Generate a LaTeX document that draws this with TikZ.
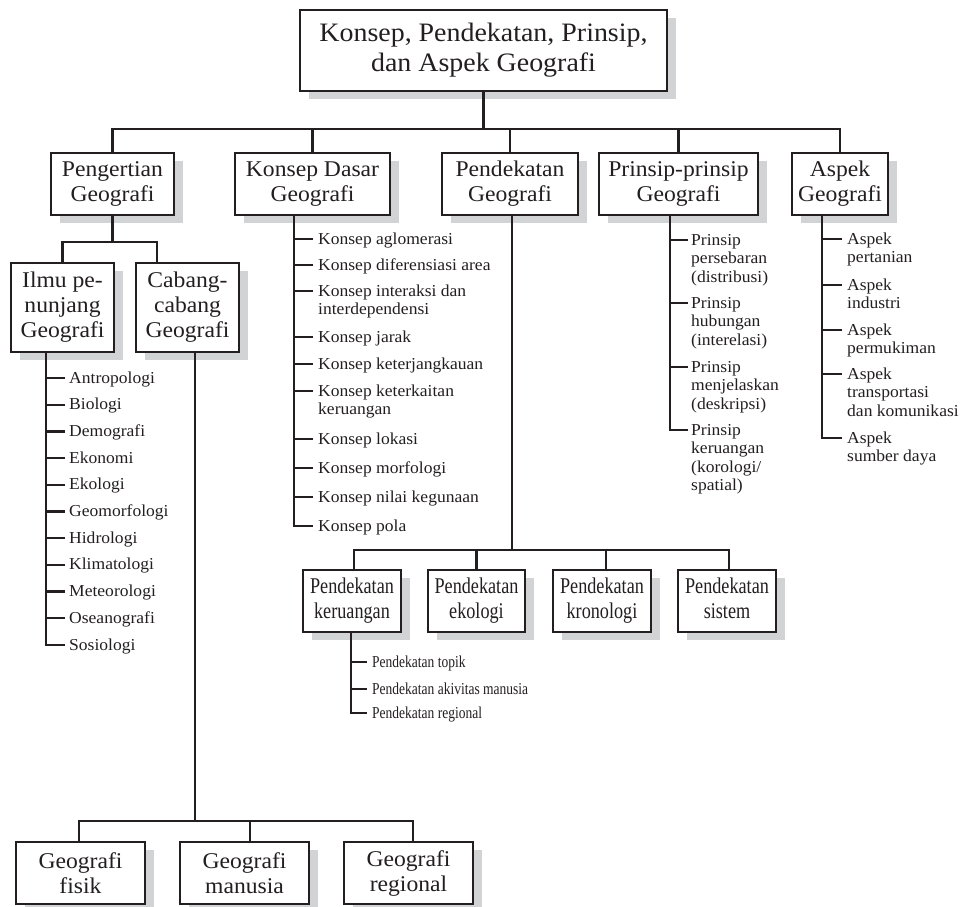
\documentclass[tikz,border=0pt]{standalone}
\usepackage{fontspec}
\setmainfont{Liberation Serif}[FakeStretch=1.05]
\usepackage{graphicx}
\usetikzlibrary{shadows}
\definecolor{ink}{HTML}{231F20}
\definecolor{shade}{HTML}{D1D3D4}
\newcommand{\lst}[1]{\begin{tabular}[t]{@{}l@{}}#1\end{tabular}}
\newcommand{\sqz}[1]{\scalebox{0.77}[1]{#1}}
\newcommand{\cbox}[1]{\begin{tabular}{@{}c@{}}#1\end{tabular}}
\tikzset{
  box/.style={draw=ink, line width=2.4pt, fill=white, inner sep=0pt, align=center, text=ink,
    font=\fontsize{22.5}{25}\selectfont,
    drop shadow={shadow xshift=9pt, shadow yshift=-8pt, fill=shade, opacity=1}},
  conn/.style={draw=ink, line width=2.3pt},
  item/.style={anchor=base west, inner sep=0pt, text=ink, font=\fontsize{16.7}{18.5}\selectfont},
}
\begin{document}
\begin{tikzpicture}[x=1pt,y=-1pt]
\useasboundingbox[fill=white] (0,0) rectangle (966,907);
% ---------------- boxes
\node[box, font=\fontsize{26.6}{30}\selectfont, minimum width=366.6pt, minimum height=80.6pt] (top) at (483.5,50.5) {Konsep, Pendekatan, Prinsip,\\dan Aspek Geografi};
\node[box, minimum width=122.6pt, minimum height=61.6pt] (peng) at (112.5,184) {Pengertian\\Geografi};
\node[box, minimum width=154.6pt, minimum height=61.6pt] (kd) at (312.5,184) {Konsep Dasar\\Geografi};
\node[box, minimum width=135.6pt, minimum height=61.6pt] (pend) at (510,184) {Pendekatan\\Geografi};
\node[box, minimum width=158.6pt, minimum height=61.6pt] (prin) at (678.5,184) {Prinsip-prinsip\\Geografi};
\node[box, minimum width=95.6pt, minimum height=61.6pt] (asp) at (840,184) {Aspek\\Geografi};
\node[box, minimum width=102.6pt, minimum height=88.6pt] (ilmu) at (62.5,307.5) {Ilmu pe-\\nunjang\\Geografi};
\node[box, minimum width=102.6pt, minimum height=88.6pt] (cab) at (187.5,307.5) {Cabang-\\cabang\\Geografi};
\node[box, minimum width=97.6pt, minimum height=61.6pt] (ker) at (352,601) {\sqz{\cbox{Pendekatan\\keruangan}}};
\node[box, minimum width=96.6pt, minimum height=61.6pt] (eko) at (476.5,601) {\sqz{\cbox{Pendekatan\\ekologi}}};
\node[box, minimum width=97.6pt, minimum height=61.6pt] (kro) at (602,601) {\sqz{\cbox{Pendekatan\\kronologi}}};
\node[box, minimum width=97.6pt, minimum height=61.6pt] (sis) at (727,601) {\sqz{\cbox{Pendekatan\\sistem}}};
\node[box, minimum width=128.6pt, minimum height=61.6pt] (fis) at (80.5,873) {Geografi\\fisik};
\node[box, minimum width=128.6pt, minimum height=61.6pt] (man) at (244.5,873) {Geografi\\manusia};
\node[box, minimum width=128.6pt, minimum height=61.6pt] (reg) at (408.5,873) {Geografi\\regional};
% ---------------- main buses
\coordinate (busA) at (0,129);
\draw[conn] (top.south) -- (top.south |- busA);
\draw[conn] (peng.north) |- (asp.north |- busA) -- (asp.north);
\foreach \n in {kd,pend,prin} \draw[conn] (\n.north) -- (\n.north |- busA);
\coordinate (busB) at (0,242);
\draw[conn] (peng.south) -- (peng.south |- busB);
\draw[conn] (ilmu.north) |- ([xshift=-30.5pt]cab.north |- busB) -- ([xshift=-30.5pt]cab.north);
\coordinate (busC) at (0,821);
\draw[conn] ([xshift=7.5pt]cab.south) -- ([xshift=7.5pt]cab.south |- busC);
\draw[conn] ([xshift=-1.5pt]fis.north) |- ([xshift=4.5pt]reg.north |- busC) -- ([xshift=4.5pt]reg.north);
\draw[conn] ([xshift=5.5pt]man.north) -- ([xshift=5.5pt]man.north |- busC);
\coordinate (busD) at (0,550);
\draw[conn] ([xshift=2pt]pend.south) -- ([xshift=2pt]pend.south |- busD);
\draw[conn] ([xshift=2pt]ker.north) |- ([xshift=2pt]sis.north |- busD) -- ([xshift=2pt]sis.north);
\draw[conn] (eko.north) -- (eko.north |- busD);
\draw[conn] ([xshift=4pt]kro.north) -- ([xshift=4pt]kro.north |- busD);
% ---------------- Ilmu penunjang list
\foreach \t [count=\i] in {Antropologi, Biologi, Demografi, Ekonomi, Ekologi, Geomorfologi, Hidrologi, Klimatologi, Meteorologi, Oseanografi, Sosiologi}
  {\node[item] (il\i) at (69,{378+26.7*(\i-1)+5}) {\t};
   \draw[conn] ([xshift=-4pt,yshift=5pt]il\i.base west) -- ++(-19pt,0);}
\draw[conn] ([xshift=-16.5pt]ilmu.south) |- ([xshift=-4pt,yshift=5pt]il11.base west);
% ---------------- Konsep dasar list
\foreach \y/\t [count=\i] in {239/{Konsep aglomerasi}, 265/{Konsep diferensiasi area}, 291/{Konsep interaksi dan\\interdependensi}, 337/{Konsep jarak}, 364/{Konsep keterjangkauan}, 391/{Konsep keterkaitan\\keruangan}, 439/{Konsep lokasi}, 468/{Konsep morfologi}, 497/{Konsep nilai kegunaan}, 526/{Konsep pola}}
  {\node[item] (kl\i) at (318,\y+5) {\lst{\t}};
   \draw[conn] ([xshift=-5pt,yshift=5pt]kl\i.base west) -- ++(-19pt,0);}
\draw[conn] ([xshift=-18.5pt]kd.south) |- ([xshift=-5pt,yshift=5pt]kl10.base west);
% ---------------- Prinsip list
\foreach \y/\t [count=\i] in {240/{Prinsip\\persebaran\\(distribusi)}, 303/{Prinsip\\hubungan\\(interelasi)}, 367/{Prinsip\\menjelaskan\\(deskripsi)}, 430/{Prinsip\\keruangan\\(korologi/\\spatial)}}
  {\node[item] (pl\i) at (691,\y+5) {\lst{\t}};
   \draw[conn] ([xshift=-3pt,yshift=5pt]pl\i.base west) -- ++(-18pt,0);}
\draw[conn] ([xshift=-8.5pt]prin.south) |- ([xshift=-3pt,yshift=5pt]pl4.base west);
% ---------------- Aspek list
\foreach \y/\t [count=\i] in {239/{Aspek\\pertanian}, 285/{Aspek\\industri}, 330/{Aspek\\permukiman}, 374/{Aspek\\transportasi\\dan komunikasi}, 438/{Aspek\\sumber daya}}
  {\node[item] (al\i) at (847,\y+5) {\lst{\t}};
   \draw[conn] ([xshift=-5pt,yshift=5pt]al\i.base west) -- ++(-20pt,0);}
\draw[conn] ([xshift=-18pt]asp.south) |- ([xshift=-5pt,yshift=5pt]al5.base west);
% ---------------- Pendekatan keruangan list
\foreach \y/\t [count=\i] in {662/{Pendekatan topik}, 689/{Pendekatan akivitas manusia}, 713/{Pendekatan regional}}
  {\node[item] (rl\i) at (372,\y+5) {\sqz{\t}};
   \draw[conn] ([xshift=-5pt,yshift=5pt]rl\i.base west) -- ++(-16pt,0);}
\draw[conn] ([xshift=-1pt]ker.south) |- ([xshift=-5pt,yshift=5pt]rl3.base west);
\end{tikzpicture}
\end{document}
